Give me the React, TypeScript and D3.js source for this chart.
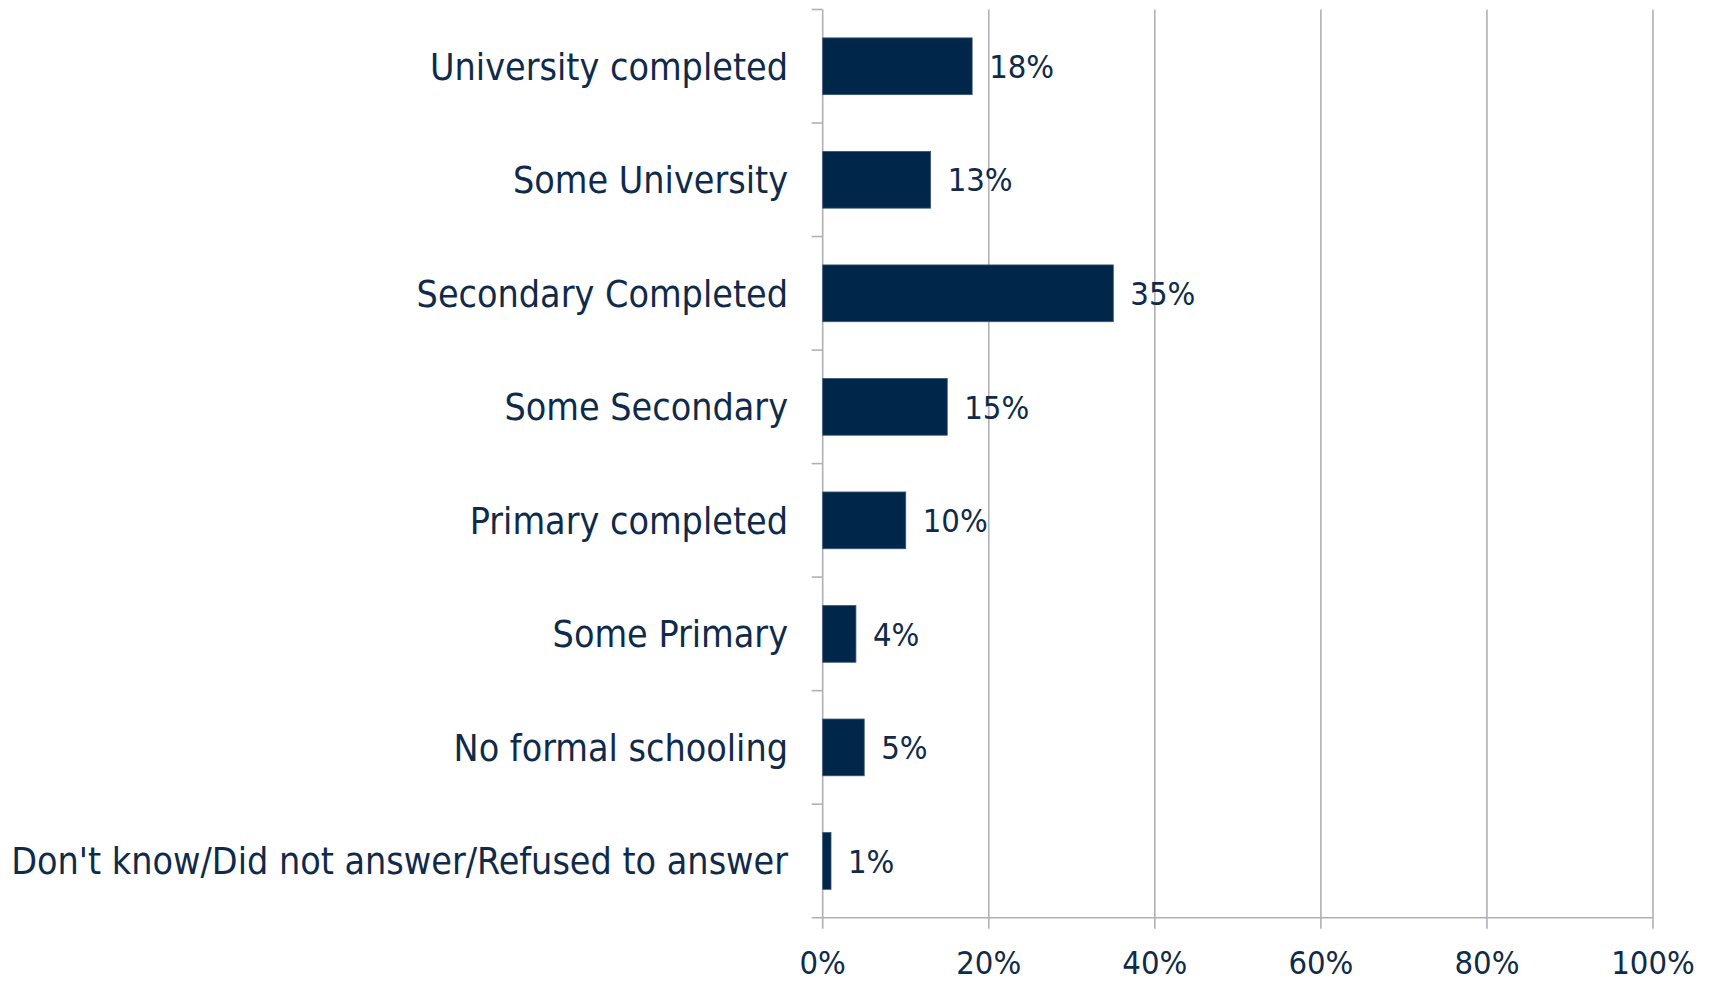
import React from "react";
import * as d3 from "d3";

const categories = [
  "University completed",
  "Some University",
  "Secondary Completed",
  "Some Secondary",
  "Primary completed",
  "Some Primary",
  "No formal schooling",
  "Don't know/Did not answer/Refused to answer",
];
const values = [18, 13, 35, 15, 10, 4, 5, 1];
const xTicks = [0, 20, 40, 60, 80, 100];

const W = 1711;
const H = 982;
const FONT = "'DejaVu Sans Condensed', 'DejaVu Sans', sans-serif";
const TEXT = "#0f2a4a";
const BAR = "#00264a";
const GRID = "#b0b0b9";

export default function App() {
  const x0 = 822.7;
  const x1 = 1653;
  const yTop = 9.5;
  const yBot = 917.7;
  const x = d3.scaleLinear().domain([0, 100]).range([x0, x1]);
  const y = d3.scaleBand<string>().domain(categories).range([yTop, yBot]).paddingInner(0.5).paddingOuter(0.25);
  const band = d3.scaleBand<string>().domain(categories).range([yTop, yBot]);
  const bounds = d3.range(categories.length + 1).map((i) => yTop + i * band.step());

  return (
    <svg width={W} height={H} style={{ position: "absolute", left: 0, top: 0, display: "block", background: "#fff" }} fontFamily={FONT}>
      {xTicks.slice(1).map((t) => (
        <line key={"g" + t} x1={x(t)} x2={x(t)} y1={yTop} y2={yBot + 11} stroke={GRID} strokeWidth={1.6} />
      ))}
      <line x1={x0} x2={x0} y1={yTop} y2={yBot + 11} stroke={GRID} strokeWidth={1.6} />
      <line x1={x0 - 11} x2={x1} y1={yBot} y2={yBot} stroke={GRID} strokeWidth={1.6} />
      {bounds.slice(0, -1).map((b, i) => (
        <line key={"t" + i} x1={x0 - 11} x2={x0} y1={b} y2={b} stroke={GRID} strokeWidth={1.6} />
      ))}
      {categories.map((c, i) => (
        <g key={c}>
          <rect x={x(0)} y={y(c)!} width={x(values[i]) - x(0)} height={y.bandwidth()} fill={BAR} stroke="#3a5577" strokeWidth={0.8} />
          <text x={x(values[i]) + 17} y={y(c)! + y.bandwidth() / 2} dy="0.36em" fontSize={32.5} fill={TEXT}>
            {values[i]}%
          </text>
          <text x={788} y={y(c)! + y.bandwidth() / 2} dy="0.36em" fontSize={37.3} fill={TEXT} textAnchor="end">
            {c}
          </text>
        </g>
      ))}
      {xTicks.map((t) => (
        <text key={"x" + t} x={x(t)} y={974} fontSize={32.5} fill={TEXT} textAnchor="middle">
          {t}%
        </text>
      ))}
    </svg>
  );
}
